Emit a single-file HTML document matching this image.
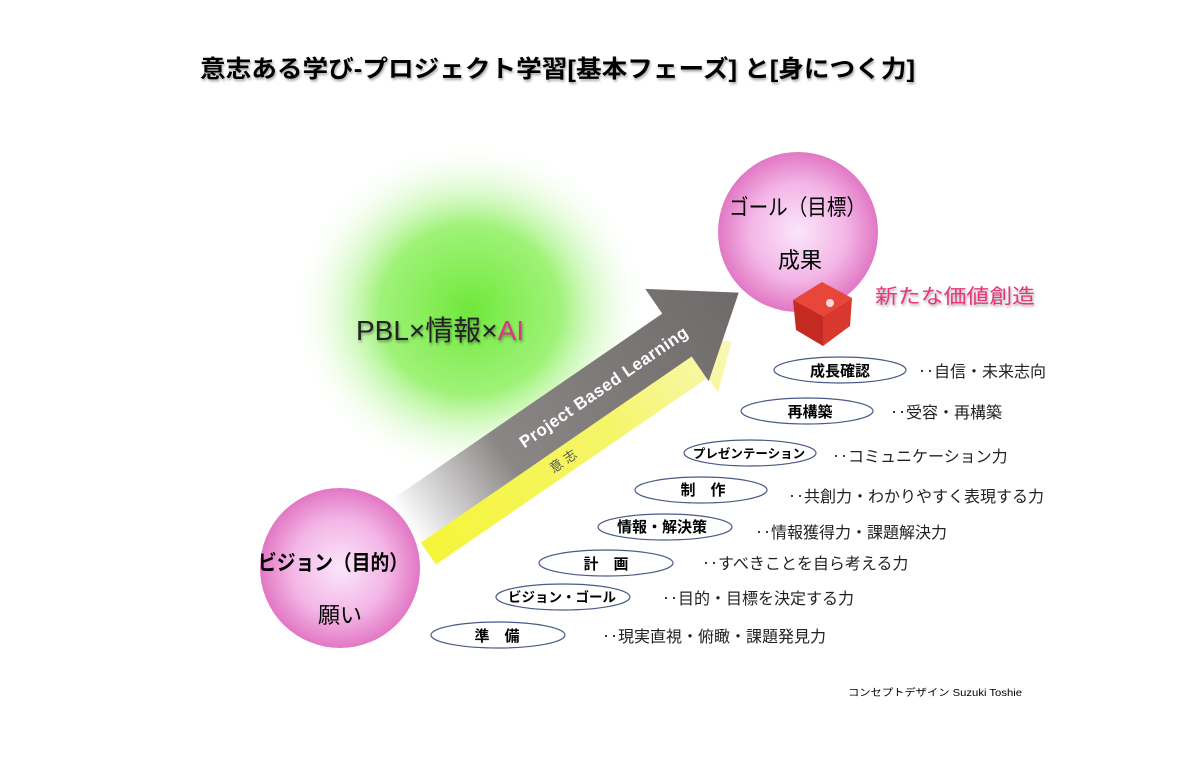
<!DOCTYPE html>
<html><head><meta charset="utf-8"><style>
html,body{margin:0;padding:0;background:#fff;}
svg{display:block;font-family:"Liberation Sans","Noto Sans CJK JP",sans-serif;}
</style></head><body>
<svg width="1200" height="772" viewBox="0 0 1200 772" xmlns="http://www.w3.org/2000/svg">
<defs>
<radialGradient id="green" cx="50%" cy="50%" r="50%">
<stop offset="0" stop-color="#6fe83a"/>
<stop offset="0.5" stop-color="#8ef060" stop-opacity="0.85"/>
<stop offset="1" stop-color="#ffffff" stop-opacity="0"/>
</radialGradient>
<radialGradient id="pink" cx="50%" cy="50%" r="50%">
<stop offset="0" stop-color="#fbe6fb"/>
<stop offset="0.6" stop-color="#f3b6e6"/>
<stop offset="1" stop-color="#e277c4"/>
</radialGradient>
<linearGradient id="gray" x1="0" y1="0" x2="1" y2="0">
<stop offset="0" stop-color="#ffffff"/>
<stop offset="0.3" stop-color="#8a8686"/>
<stop offset="1" stop-color="#6e6a6a"/>
</linearGradient>
<linearGradient id="yel" x1="0" y1="0" x2="1" y2="0">
<stop offset="0" stop-color="#f5f53a"/>
<stop offset="0.6" stop-color="#f5f56a"/>
<stop offset="1" stop-color="#f8f8b8"/>
</linearGradient>
<filter id="sh"><feDropShadow dx="1" dy="2" stdDeviation="1.2" flood-color="#000" flood-opacity="0.35"/></filter>
</defs>

<text x="200" y="77" font-size="24" font-weight="bold" textLength="715" lengthAdjust="spacingAndGlyphs" filter="url(#sh)">意志ある学び‐プロジェクト学習[基本フェーズ]  と[身につく力]</text>

<ellipse cx="470" cy="310" rx="180" ry="170" fill="url(#green)"/>

<!-- yellow arrow -->
<g transform="translate(428,553) rotate(-34.5)">
<polygon points="0,-14 330,-14 330,-38 370,-2 330,32 330,14 0,14" fill="url(#yel)"/>
</g>
<!-- gray arrow -->
<g transform="translate(405,522) rotate(-34.5)">
<polygon points="0,-26 330,-26 330,-56 405,0 330,56 330,26 0,26" fill="url(#gray)"/>
<text x="140" y="7" font-size="17" fill="#fff" font-weight="bold" textLength="200">Project Based Learning</text>
<text x="150" y="44" font-size="13" fill="#555">意 志</text>
</g>

<text x="356" y="340" font-size="28" fill="#222" filter="url(#sh)">PBL×情報×<tspan fill="#e0308a">AI</tspan></text>

<circle cx="798" cy="232" r="80" fill="url(#pink)"/>
<text x="729" y="215" font-size="22" textLength="137" lengthAdjust="spacingAndGlyphs">ゴール（目標）</text>
<text x="800" y="268" font-size="22" text-anchor="middle">成果</text>

<circle cx="340" cy="568" r="80" fill="url(#pink)"/>
<text x="258" y="570" font-size="21" font-weight="bold" textLength="150" lengthAdjust="spacingAndGlyphs">ビジョン（目的）</text>
<text x="340" y="623" font-size="22" text-anchor="middle">願い</text>

<!-- cube -->
<g>
<polygon points="793,300 822,282 852,298 823,316" fill="#e8463a"/>
<polygon points="793,300 823,316 823,346 796,330" fill="#c42a22"/>
<polygon points="823,316 852,298 850,326 823,346" fill="#d8382e"/>
<circle cx="830" cy="303" r="4" fill="#fff" opacity="0.8"/>
</g>
<text x="875" y="303" font-size="20" fill="#e8357a" textLength="160" lengthAdjust="spacingAndGlyphs" filter="url(#sh)">新たな価値創造</text>

<g fill="none" stroke="#4a5a88" stroke-width="1.2">
<ellipse cx="840" cy="370" rx="66" ry="13"/>
<ellipse cx="807" cy="411" rx="66" ry="13"/>
<ellipse cx="750" cy="453" rx="66" ry="13"/>
<ellipse cx="701" cy="490" rx="66" ry="13"/>
<ellipse cx="665" cy="527" rx="67" ry="13"/>
<ellipse cx="606" cy="563" rx="67" ry="13"/>
<ellipse cx="563" cy="597" rx="67" ry="13"/>
<ellipse cx="498" cy="635" rx="67" ry="13"/>
</g>
<g font-size="15" font-weight="bold" text-anchor="middle">
<text x="840" y="376">成長確認</text>
<text x="810" y="417">再構築</text>
<text x="749" y="458" font-size="12.5">プレゼンテーション</text>
<text x="703" y="495">制　作</text>
<text x="662" y="532">情報・解決策</text>
<text x="606" y="569">計　画</text>
<text x="562" y="602" font-size="13.5">ビジョン・ゴール</text>
<text x="497" y="641">準　備</text>
</g>
<g font-size="16" fill="#222">
<text x="918" y="377">‥自信・未来志向</text>
<text x="890" y="418">‥受容・再構築</text>
<text x="832" y="462">‥コミュニケーション力</text>
<text x="788" y="502">‥共創力・わかりやすく表現する力</text>
<text x="755" y="538">‥情報獲得力・課題解決力</text>
<text x="702" y="569">‥すべきことを自ら考える力</text>
<text x="662" y="604">‥目的・目標を決定する力</text>
<text x="602" y="642">‥現実直視・俯瞰・課題発見力</text>
</g>
<text x="848" y="696" font-size="10" textLength="174" lengthAdjust="spacingAndGlyphs">コンセプトデザイン  Suzuki  Toshie</text>
</svg>
</body></html>
